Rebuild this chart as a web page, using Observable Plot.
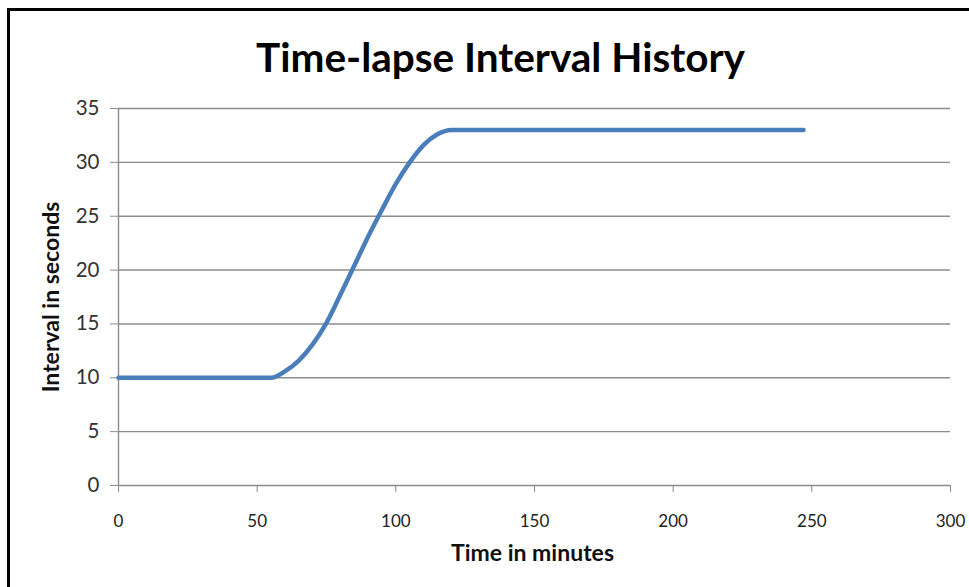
<!DOCTYPE html>
<html>
<head>
<meta charset="utf-8">
<script src="https://cdn.jsdelivr.net/npm/d3@7"></script>
<script src="https://cdn.jsdelivr.net/npm/@observablehq/plot@0.6"></script>
<style>
  html, body { margin: 0; padding: 0; background: #fff; }
  #wrap { position: relative; width: 969px; height: 587px; overflow: hidden; background: #fff; }
  #wrap svg { position: absolute; left: 0; top: 0; }
  #frame { position: absolute; left: 7px; top: 8px; width: 980px; height: 600px;
           border-left: 3px solid #000; border-top: 3px solid #000; pointer-events: none; }
</style>
</head>
<body>
<div id="wrap"><div id="frame"></div></div>
<script>
const title = "Time-lapse Interval History";
const xLabel = "Time in minutes";
const yLabel = "Interval in seconds";

const minutes  = [0, 31, 55, 60, 65, 70, 75, 80, 85, 90, 95, 100, 105, 110, 115, 120, 188, 247];
const interval = [10, 10, 10, 10.6, 11.6, 13.1, 15.1, 17.7, 20.4, 23.1, 25.6, 28, 30, 31.6, 32.6, 33, 33, 33];

const xTicks = [0, 50, 100, 150, 200, 250, 300];
const yTicks = [0, 5, 10, 15, 20, 25, 30, 35];

const data = minutes.map((m, i) => ({minutes: m, interval: interval[i]}));

const chart = Plot.plot({
  width: 969,
  height: 587,
  marginLeft: 118,
  marginRight: 19,
  marginTop: 108,
  marginBottom: 102,
  style: {background: "transparent", overflow: "visible"},
  x: {domain: [0, 300], ticks: xTicks},
  y: {domain: [0, 35], ticks: yTicks},
  marks: [
    Plot.gridY(yTicks, {stroke: "#8c8c8c", strokeOpacity: 1, strokeWidth: 1.4}),
    Plot.ruleX([0], {stroke: "#8c8c8c", strokeWidth: 1.4}),
    Plot.axisY({ticks: yTicks, tickSize: 8, tickPadding: 11, label: null, stroke: "#8c8c8c",
      fontSize: 20.5, fontFamily: "Lato", fill: "#333"}),
    Plot.axisX({ticks: xTicks, tickSize: 7, tickPadding: 22, label: null, stroke: "#8c8c8c",
      fontSize: 17, fontFamily: "Lato", fill: "#222"}),
    Plot.line(data, {x: "minutes", y: "interval", stroke: "#4a7ebb", strokeWidth: 4.5, curve: "monotone-x"}),
    Plot.text([title], {frameAnchor: "top", textAnchor: "middle", dx: -34, dy: -49, fontSize: 40.5, fontWeight: "bold",
      fontFamily: "Lato", fill: "#000", lineAnchor: "middle"}),
    Plot.text([xLabel], {frameAnchor: "bottom", textAnchor: "middle", dx: -2, dy: 68, fontSize: 23, fontWeight: "bold",
      fontFamily: "Lato", fill: "#111", lineAnchor: "middle"}),
    Plot.text([yLabel], {frameAnchor: "left", textAnchor: "middle", dx: -67, dy: 0, rotate: -90, fontSize: 23, fontWeight: "bold",
      fontFamily: "Lato", fill: "#111", lineAnchor: "middle"})
  ]
});
document.getElementById("wrap").prepend(chart);
</script>
</body>
</html>
